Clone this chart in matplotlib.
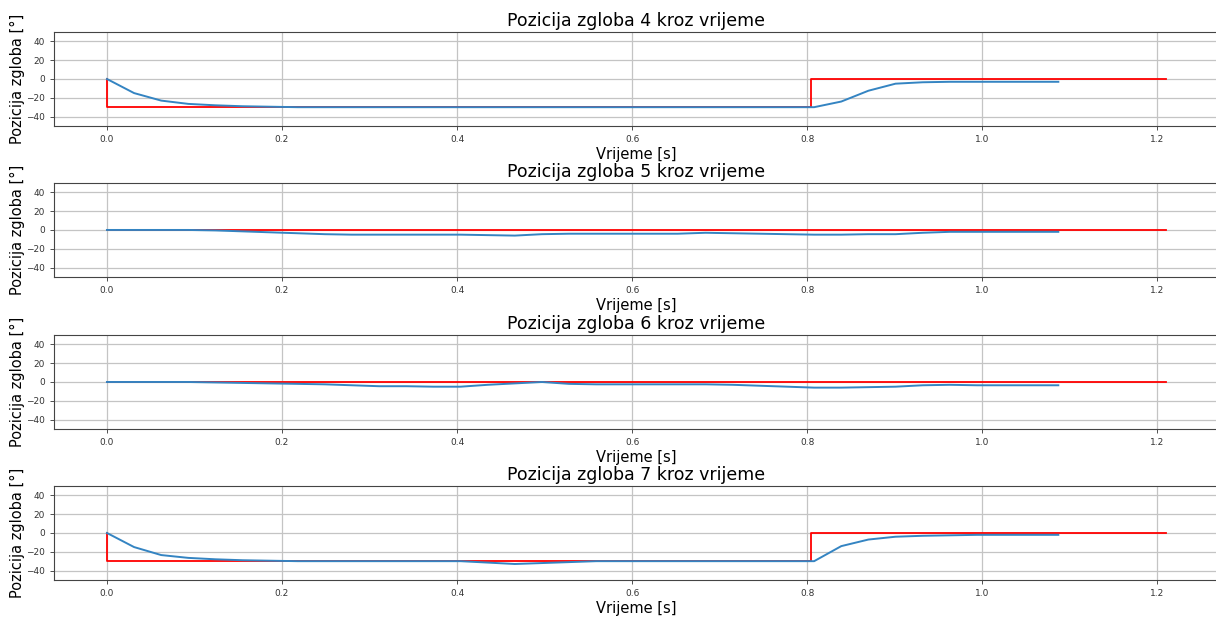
import matplotlib.pyplot as plt

# vrijeme mjerenja [s]
t_mj = [0.000, 0.031, 0.062, 0.093, 0.124, 0.155, 0.186, 0.218, 0.249, 0.280,
        0.311, 0.342, 0.373, 0.404, 0.435, 0.466, 0.497, 0.528, 0.559, 0.590,
        0.621, 0.652, 0.684, 0.715, 0.746, 0.777, 0.808, 0.839, 0.870, 0.901,
        0.932, 0.963, 0.994, 1.025, 1.056, 1.087]

# izmjerene pozicije zglobova [deg]
zglob4 = [0, -15, -23, -26.5, -28, -29, -29.5, -30, -30, -30,
          -30, -30, -30, -30, -30, -30, -30, -30, -30, -30,
          -30, -30, -30, -30, -30, -30, -30, -24, -12.5, -5,
          -3.5, -3, -3, -3, -3, -3]
zglob5 = [0, 0, 0, 0, -0.5, -1.5, -2.5, -3.5, -4.5, -5,
          -5, -5, -5, -5, -5.5, -6, -4.5, -4, -4, -4,
          -4, -4, -3, -3.5, -4, -4.5, -5, -5, -4.5, -4.5,
          -3, -2, -2, -2, -2, -2]
zglob6 = [0, 0, 0, 0, -0.5, -1, -1.5, -2, -2.5, -3.5,
          -4.5, -4.5, -5, -5, -3, -1.5, 0, -2, -2.5, -2.5,
          -2.5, -2.5, -2.5, -3, -4, -5, -6, -6, -5.5, -5,
          -3.5, -3, -3.5, -3.5, -3.5, -3.5]
zglob7 = [0, -15, -23.5, -26.5, -28, -29, -29.5, -30, -30, -30,
          -30, -30, -30, -30, -31.5, -33, -32, -31, -30, -30,
          -30, -30, -30, -30, -30, -30, -30, -14, -7, -4,
          -3, -2.5, -2, -2, -2, -2]

# zadane (referentne) pozicije
t_ref = [0.0, 0.0, 0.805, 0.805, 1.21]
ref4 = [0, -30, -30, 0, 0]
ref5 = [0, 0, 0, 0, 0]
ref6 = [0, 0, 0, 0, 0]
ref7 = [0, -30, -30, 0, 0]

brojevi = [4, 5, 6, 7]
mjerenja = [zglob4, zglob5, zglob6, zglob7]
reference = [ref4, ref5, ref6, ref7]

fig = plt.figure(figsize=(12.16, 6.17), dpi=100)

bottoms = [0.7958, 0.5511, 0.3047, 0.0600]
for i in range(4):
    ax = fig.add_axes([0.0444, bottoms[i], 0.958, 0.1524])
    ax.plot(t_ref, reference[i], color="red", linewidth=1.3)
    ax.plot(t_mj, mjerenja[i], color="#3484c2", linewidth=1.4)
    ax.set_xlim(-0.0605, 1.2705)
    ax.set_ylim(-50, 50)
    ax.set_yticks([-40, -20, 0, 20, 40])
    ax.set_xticks([0.0, 0.2, 0.4, 0.6, 0.8, 1.0, 1.2])
    ax.tick_params(labelsize=6.5, length=3, width=0.6, colors="#333333")
    ax.grid(color="#c4c4c4", linewidth=0.9)
    for s in ax.spines.values():
        s.set_color("#444444")
    ax.set_title(f"Pozicija zgloba {brojevi[i]} kroz vrijeme", fontsize=12.5, pad=4)
    ax.set_xlabel("Vrijeme [s]", fontsize=10.5, labelpad=2)
    ax.set_ylabel("Pozicija zgloba [°]", fontsize=10.5, labelpad=1)

fig.savefig("out.png", dpi=100)
